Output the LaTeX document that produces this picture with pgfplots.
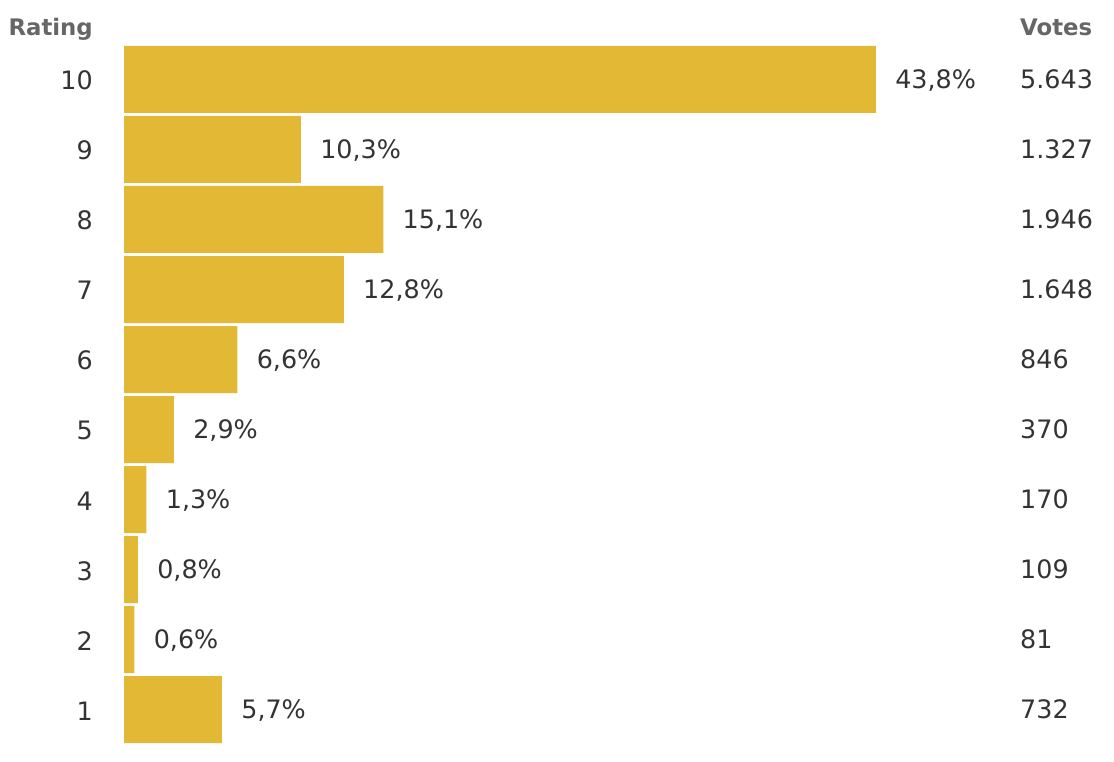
\documentclass[border=0pt]{standalone}
\usepackage{pgfplots}
\pgfplotsset{compat=1.18}
\usepackage{fontspec}
\setmainfont{DejaVu Sans}
\definecolor{bargold}{HTML}{E3B835}
\definecolor{txt}{HTML}{333333}
\definecolor{hdr}{HTML}{666666}
\begin{document}
\begin{tikzpicture}
\begin{axis}[
  scale only axis, width=557pt, height=381pt,
  xmin=-7.2225, xmax=57.662, ymin=0.2578, ymax=11.134,
  clip=false,
  axis line style={draw=none},
  major tick length=0pt,
  xtick=\empty,
  ytick={1,2,3,4,5,6,7,8,9,10},
  yticklabels={1,2,3,4,5,6,7,8,9,10},
  /pgf/number format/assume math mode=true,
  yticklabel style={anchor=base east, inner sep=0pt, xshift=46.5pt, yshift=-5.2pt,
    text=txt, font=\fontsize{12.7}{15}\selectfont},
]
\path (rel axis cs:0,0) rectangle (rel axis cs:1,1);
\addplot[xbar, bar width=33.5pt, fill=bargold, draw=none,
  nodes near coords, point meta=explicit symbolic,
  nodes near coords style={anchor=base west, inner sep=0pt, xshift=9.5pt, yshift=-4.3pt,
    text=txt, font=\fontsize{12.7}{15}\selectfont}]
coordinates {
(43.8,10) [{43,8\%}]
(10.3,9) [{10,3\%}]
(15.1,8) [{15,1\%}]
(12.8,7) [{12,8\%}]
(6.6,6) [{6,6\%}]
(2.9,5) [{2,9\%}]
(1.3,4) [{1,3\%}]
(0.8,3) [{0,8\%}]
(0.6,2) [{0,6\%}]
(5.7,1) [{5,7\%}]
};
\addplot[draw=none, mark=none,
  nodes near coords, point meta=explicit symbolic,
  nodes near coords style={anchor=base west, inner sep=0pt, yshift=-4.3pt,
    text=txt, font=\fontsize{12.7}{15}\selectfont}]
coordinates {
(52.187,10) [5.643]
(52.187,9) [1.327]
(52.187,8) [1.946]
(52.187,7) [1.648]
(52.187,6) [846]
(52.187,5) [370]
(52.187,4) [170]
(52.187,3) [109]
(52.187,2) [81]
(52.187,1) [732]
};
\node[anchor=base west, inner sep=0pt, text=hdr, font=\fontsize{11.4}{13}\selectfont\bfseries]
  at (rel axis cs:0.00718,0.9528) {Rating};
\node[anchor=base west, inner sep=0pt, text=hdr, font=\fontsize{11.4}{13}\selectfont\bfseries]
  at (rel axis cs:0.9156,0.9528) {Votes};
\end{axis}
\end{tikzpicture}
\end{document}
